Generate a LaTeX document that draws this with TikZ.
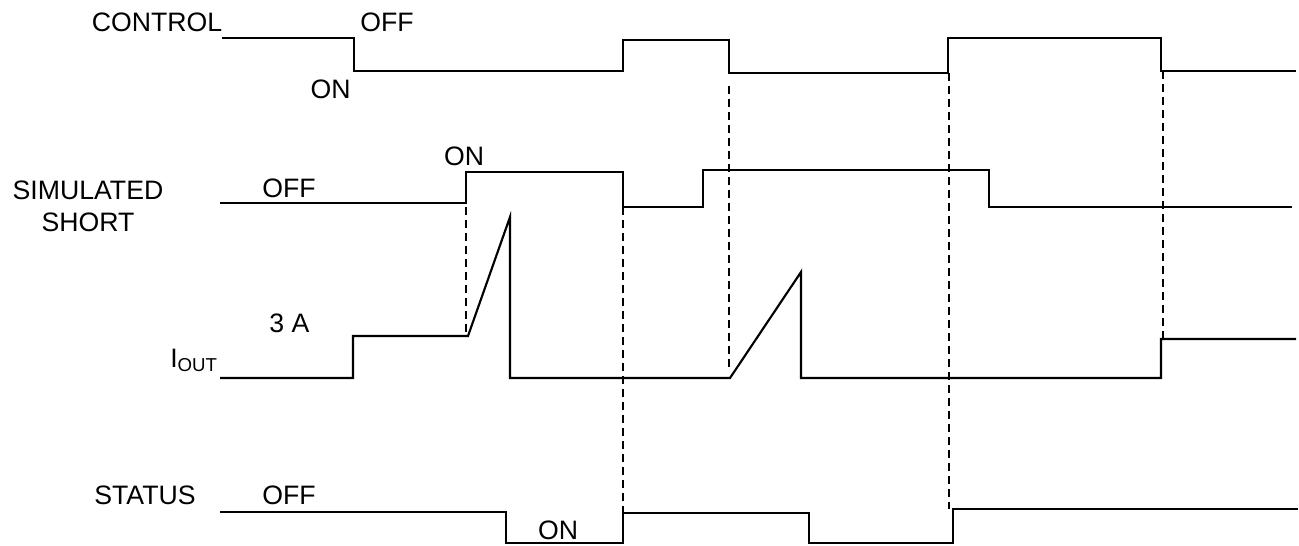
\documentclass[tikz,border=0pt]{standalone}
\usepackage{fontspec}
\setmainfont{Liberation Sans}
\begin{document}
\begin{tikzpicture}[x=0.75pt,y=-0.75pt,
  wave/.style={line width=1.6pt,line join=miter},
  guide/.style={line width=1.35pt,dash pattern=on 6pt off 3.75pt},
  lbl/.style={inner sep=0pt,font=\fontsize{20}{24}\selectfont}]
\useasboundingbox (0,0) rectangle (1299,546);
% labels
\node[lbl] (ctl) at (157,22.5) {CONTROL};
\node[lbl] (ctloff) at (387,22.5) {OFF};
\node[lbl] (ctlon) at (330.5,89) {ON};
\node[lbl,align=center] (sim) at (88,206) {SIMULATED\\SHORT};
\node[lbl] (simoff) at (289,188.5) {OFF};
\node[lbl] (simon) at (464,156) {ON};
\node[lbl] (amp) at (289.5,323.5) {3 A};
\node[lbl,anchor=base east] (iout) at (218,367) {I\textsubscript{OUT}};
\node[lbl] (stat) at (145,495.5) {STATUS};
\node[lbl] (statoff) at (289,495.5) {OFF};
\node[lbl] (staton) at (558,530) {ON};
% waveforms
\draw[wave] (222,38) -- (354,38) -- (354,71) -- (623,71) -- (623,40) -- (729,40) -- (729,73) -- (948,73) -- (948,38) -- (1161,38) -- (1161,71) -- (1296,71);
\draw[wave] (220,203) -- (466,203) -- (466,172) -- (623,172) -- (623,207) -- (703,207) -- (703,170) -- (989,170) -- (989,207) -- (1292,207);
\draw[wave] (220,378) -- (353,378) -- (353,336) -- (468,336) -- (510,217) -- (510,378) -- (730,378) -- (801,272) -- (801,378) -- (1161,378) -- (1161,339) -- (1296,339);
\draw[wave] (220,512) -- (506,512) -- (506,543) -- (623,543) -- (623,513) -- (809,513) -- (809,543) -- (953,543) -- (953,509) -- (1298,509);
% dashed guides
\draw[guide] (466,207) -- (466,336);
\draw[guide] (623,207) -- (623,513);
\draw[guide] (729,86) -- (729,370);
\draw[guide] (949,73) -- (949,509);
\draw[guide] (1163,71) -- (1163,339);
\end{tikzpicture}
\end{document}
